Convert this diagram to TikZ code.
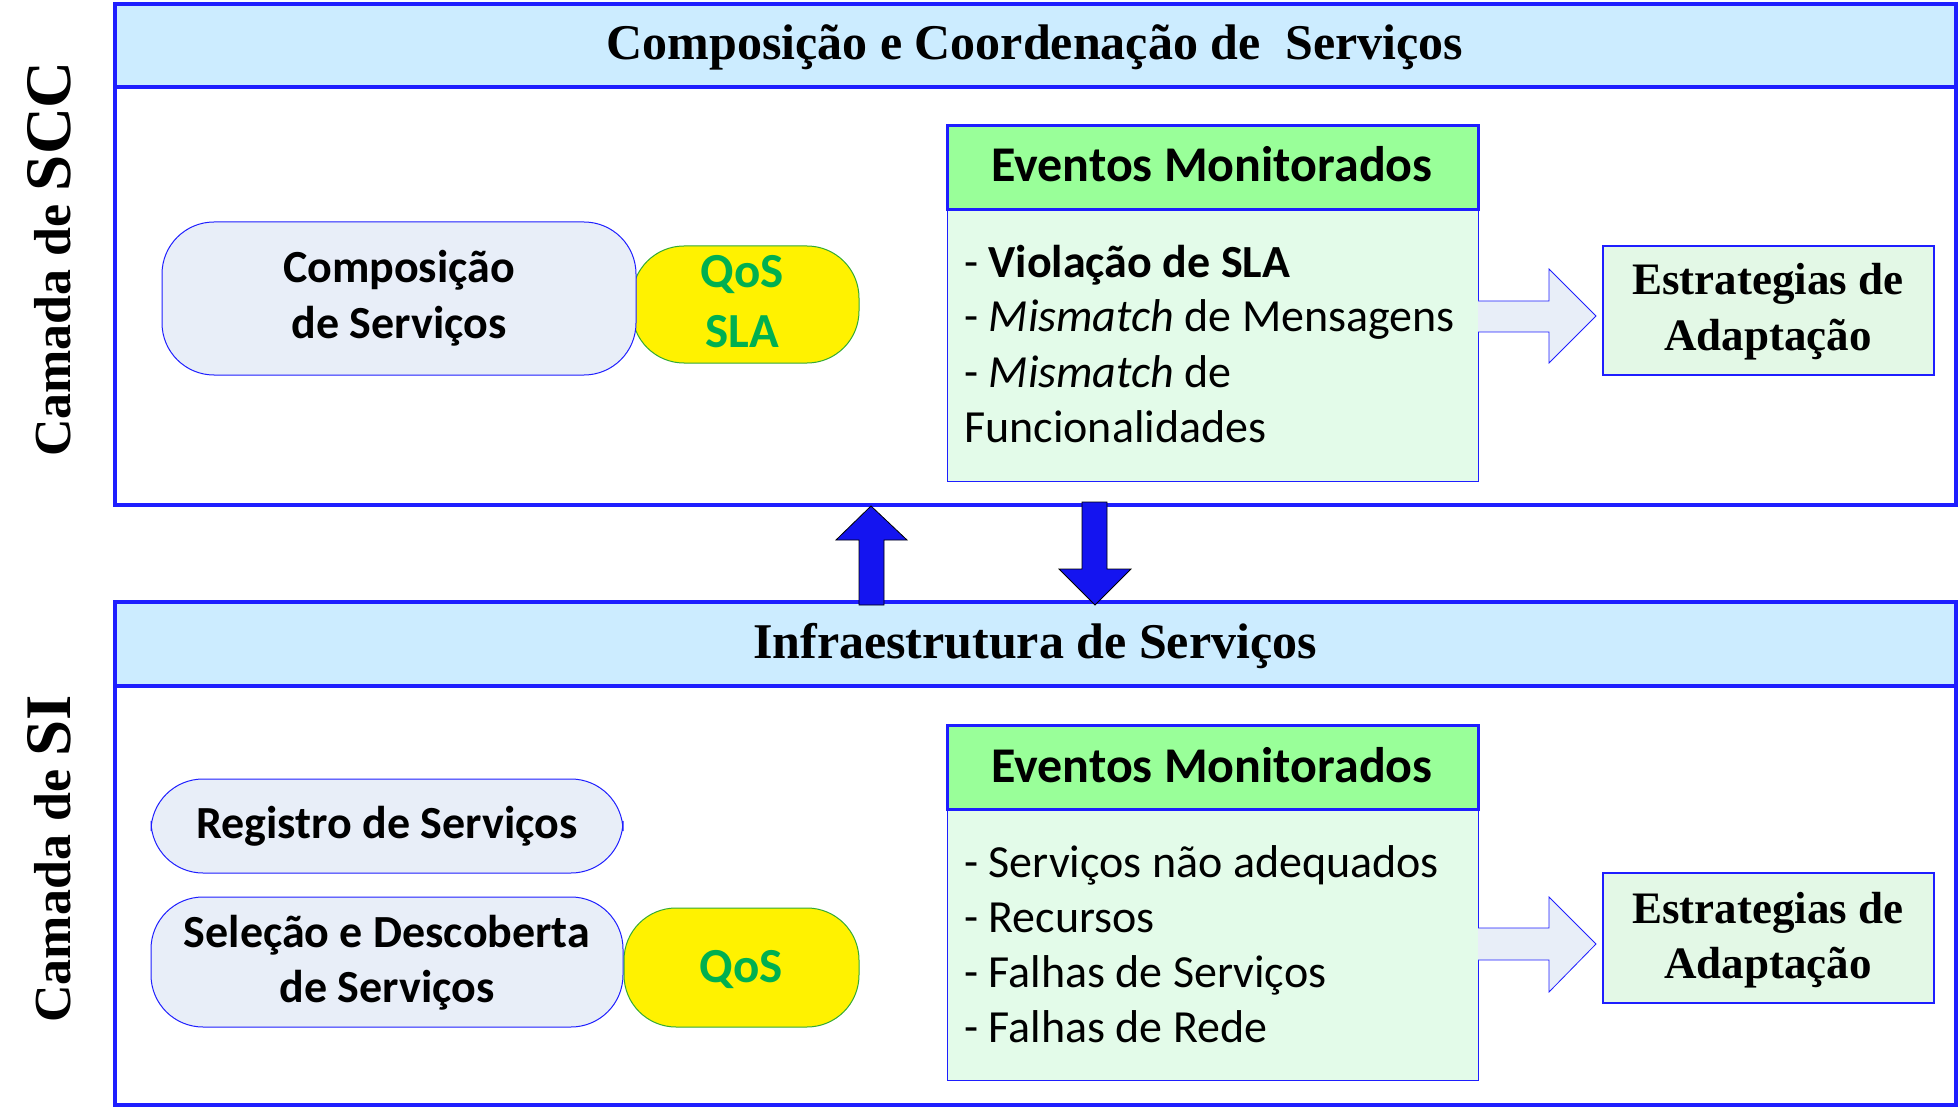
\documentclass[tikz,border=0pt]{standalone}
\usepackage{fontspec}
\setmainfont{Carlito}
\newfontfamily\tms{Liberation Serif}
\definecolor{bblue}{HTML}{1E1EFF}
\definecolor{hdrblue}{HTML}{CCECFF}
\definecolor{pillfill}{HTML}{E8EEF8}
\definecolor{greenhdr}{HTML}{99FF99}
\definecolor{greenbody}{HTML}{E3FBE9}
\definecolor{stratfill}{HTML}{E3F8E6}
\definecolor{qosgreen}{HTML}{00B050}
\definecolor{qosline}{HTML}{33AA33}
\definecolor{arrowblue}{HTML}{1414F0}
\begin{document}
\begin{tikzpicture}[x=1pt,y=-1pt,
  frame/.style={draw=bblue,line width=4pt},
  boxnode/.style={inner sep=0pt,outer sep=0pt,anchor=north west},
  pill/.style={boxnode,draw=bblue,line width=1pt,fill=pillfill,rounded corners=52pt},
  qospill/.style={boxnode,draw=qosline,line width=1pt,fill=yellow,rounded corners=52pt},
  evhdr/.style={boxnode,draw=bblue,line width=3pt,fill=greenhdr},
  evbody/.style={boxnode,draw=bblue,line width=1pt,fill=greenbody},
  strat/.style={boxnode,draw=bblue,line width=1.5pt,fill=stratfill},
  blockarrow/.style={draw=bblue,line width=0.8pt,fill=pillfill},
  layerarrow/.style={draw=black,line width=0.8pt,fill=arrowblue},
  ttl/.style={inner sep=0pt,anchor=base,font=\tms\bfseries\fontsize{50}{56}\selectfont},
  strattxt/.style={inner sep=0pt,anchor=base,font=\tms\bfseries\fontsize{45}{50}\selectfont},
  pilltxt/.style={inner sep=0pt,anchor=base,font=\bfseries\fontsize{46}{52}\selectfont},
  qostxt/.style={inner sep=0pt,anchor=base,text=qosgreen,font=\bfseries\fontsize{49}{54}\selectfont},
  evtitle/.style={inner sep=0pt,anchor=base,font=\bfseries\fontsize{50}{56}\selectfont},
  evline/.style={inner sep=0pt,anchor=base west,font=\fontsize{46}{52}\selectfont},
  sidelbl/.style={inner sep=0pt,anchor=base,rotate=90,font=\tms\bfseries}
]
\useasboundingbox (0,0) rectangle (1960,1107);

% ===== top layer =====
\fill[hdrblue] (115,4) rectangle (1956,87);
\draw[frame] (115,87) -- (1956,87);
\draw[frame] (115,4) rectangle (1956,505);
\node[ttl] (t1) at (1035,60) {Composição e Coordenação de\ \ Serviços};
\node[sidelbl] (l1) at (70,259) {{\fontsize{52}{58}\selectfont Camada de }{\fontsize{65}{72}\selectfont SCC}};

\node[qospill,minimum width=227pt,minimum height=117pt] (q1) at (632,246) {};
\node[pill,minimum width=474pt,minimum height=153pt] (comp) at (162,222) {};
\node[pilltxt] (comp1) at (399,283) {Composição};
\node[pilltxt] (comp2) at (399,338) {de Serviços};
\node[qostxt] (q1a) at (742,288) {QoS};
\node[qostxt] (q1b) at (742,348) {SLA};

\node[evbody,minimum width=531pt,minimum height=271pt] (e1b) at (947,210) {};
\node[evhdr,minimum width=531pt,minimum height=84pt] (e1h) at (947,126) {};
\node[evtitle] (e1t) at (1212,182) {Eventos Monitorados};
\node[evline] (e1l1) at (964,278) {- \textbf{Violação de SLA}};
\node[evline] (e1l2) at (964,332) {- \textit{Mismatch} de Mensagens};
\node[evline] (e1l3) at (964,387) {- \textit{Mismatch} de};
\node[evline] (e1l4) at (964,442) {Funcionalidades};

\node[strat,minimum width=331pt,minimum height=129pt] (s1) at (1603,246) {};
\node[strattxt] (s1a) at (1768,295) {Estrategias de};
\node[strattxt] (s1b) at (1768,350) {Adaptação};

\coordinate (tip1) at (1596,316);
\draw[blockarrow] (e1b.east |- 0,301) -- (1549,301) -- (1549,269) -- (tip1) -- (1549,363) -- (1549,332) -- (e1b.east |- 0,332);

% ===== bottom layer =====
\fill[hdrblue] (115,602) rectangle (1956,686);
\draw[frame] (115,686) -- (1956,686);
\draw[frame] (115,602) rectangle (1956,1105);
\node[ttl] (t2) at (1035,658) {Infraestrutura de Serviços};
\node[sidelbl] (l2) at (70,859) {{\fontsize{52}{58}\selectfont Camada de }{\fontsize{65}{72}\selectfont SI}};

\node[pill,minimum width=472pt,minimum height=94pt] (reg) at (151,779) {};
\node[pilltxt] (regt) at (387,838) {Registro de Serviços};
\node[pill,minimum width=472pt,minimum height=130pt] (sel) at (151,897) {};
\node[pilltxt] (sel1) at (387,947) {Seleção e Descoberta};
\node[pilltxt] (sel2) at (387,1002) {de Serviços};
\node[qospill,minimum width=235pt,minimum height=119pt] (q2) at (624,908) {};
\node[qostxt] (q2a) at (741,982) {QoS};

\node[evbody,minimum width=531pt,minimum height=271pt] (e2b) at (947,809) {};
\node[evhdr,minimum width=531pt,minimum height=84pt] (e2h) at (947,725) {};
\node[evtitle] (e2t) at (1212,782) {Eventos Monitorados};
\node[evline] (e2l1) at (964,877) {- Serviços não adequados};
\node[evline] (e2l2) at (964,932) {- Recursos};
\node[evline] (e2l3) at (964,987) {- Falhas de Serviços};
\node[evline] (e2l4) at (964,1042) {- Falhas de Rede};

\node[strat,minimum width=331pt,minimum height=130pt] (s2) at (1603,873) {};
\node[strattxt] (s2a) at (1768,923) {Estrategias de};
\node[strattxt] (s2b) at (1768,978) {Adaptação};

\coordinate (tip2) at (1596,944);
\draw[blockarrow] (e2b.east |- 0,928) -- (1549,928) -- (1549,897) -- (tip2) -- (1549,992) -- (1549,960) -- (e2b.east |- 0,960);

% ===== arrows between layers =====
\coordinate (uptip) at (871,506);
\coordinate (dntip) at (1095,605);
\draw[layerarrow] (uptip) -- (907,540) -- (884,540) -- (884,605) -- (859,605) -- (859,540) -- (836,540) -- cycle;
\draw[layerarrow] (dntip) -- (1131,569) -- (1107,569) -- (1107,502) -- (1082,502) -- (1082,569) -- (1059,569) -- cycle;
\end{tikzpicture}
\end{document}
